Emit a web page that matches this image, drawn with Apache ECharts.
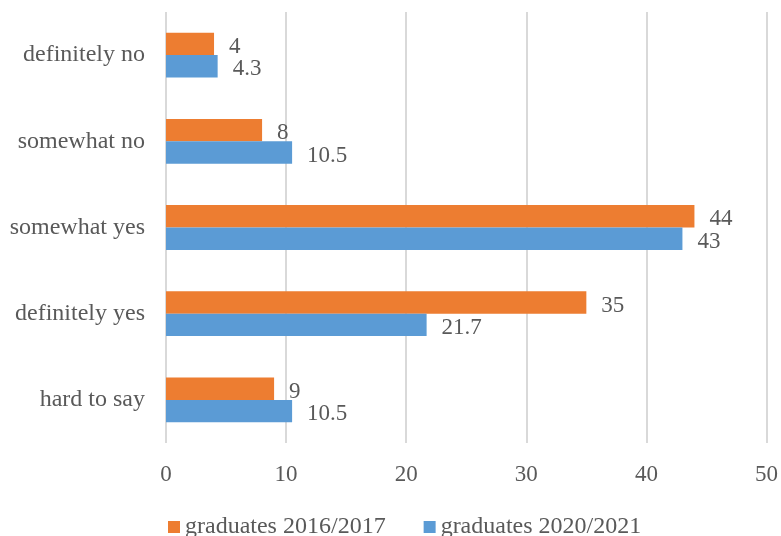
<!DOCTYPE html>
<html>
<head>
<meta charset="utf-8">
<script src="https://cdn.jsdelivr.net/npm/echarts@6/dist/echarts.min.js"></script>
<style>
html,body{margin:0;padding:0;background:#fff;}
#chart{width:781px;height:536px;}
</style>
</head>
<body>
<div id="chart"></div>
<script>
var categories = ["definitely no", "somewhat no", "somewhat yes", "definitely yes", "hard to say"];
var grads2016 = [4, 8, 44, 35, 9];
var grads2020 = [4.3, 10.5, 43, 21.7, 10.5];
var seriesNames = ["graduates 2016/2017", "graduates 2020/2021"];
var xTicks = [0, 10, 20, 30, 40, 50];

var FONT = '"Liberation Serif", "Times New Roman", serif';
var TXT = '#595959';
var chart = echarts.init(document.getElementById('chart'), null, {renderer: 'canvas'});

function labelCfg() {
  return {
    show: true,
    position: 'right',
    distance: 15,
    offset: [0, 3],
    color: TXT,
    fontFamily: FONT,
    fontSize: 23
  };
}

chart.setOption({
  animation: false,
  backgroundColor: '#ffffff',
  textStyle: {fontFamily: FONT},
  grid: {left: 166, right: 14, top: 12, bottom: 93, containLabel: false},
  legend: {
    data: seriesNames,
    left: 168,
    top: 515,
    padding: 0,
    itemGap: 38,
    itemWidth: 12,
    itemHeight: 12,
    icon: 'rect',
    textStyle: {color: TXT, fontFamily: FONT, fontSize: 24}
  },
  xAxis: {
    type: 'value',
    min: xTicks[0],
    max: xTicks[xTicks.length - 1],
    interval: 10,
    axisLine: {show: false},
    axisTick: {show: false},
    axisLabel: {color: TXT, fontFamily: FONT, fontSize: 23, margin: 20},
    splitLine: {show: true, lineStyle: {color: '#d9d9d9', width: 2}}
  },
  yAxis: {
    type: 'category',
    data: categories,
    inverse: true,
    axisLine: {show: false},
    axisTick: {show: false},
    axisLabel: {color: TXT, fontFamily: FONT, fontSize: 24, margin: 21, padding: [4, 0, 0, 0]},
    splitLine: {show: false}
  },
  series: [
    {
      name: seriesNames[0],
      type: 'bar',
      data: grads2016,
      barGap: '0%',
      barCategoryGap: '48%',
      itemStyle: {color: '#ED7D31'},
      label: labelCfg()
    },
    {
      name: seriesNames[1],
      type: 'bar',
      data: grads2020,
      barGap: '0%',
      barCategoryGap: '48%',
      itemStyle: {color: '#5B9BD5'},
      label: labelCfg()
    }
  ]
});
</script>
</body>
</html>
